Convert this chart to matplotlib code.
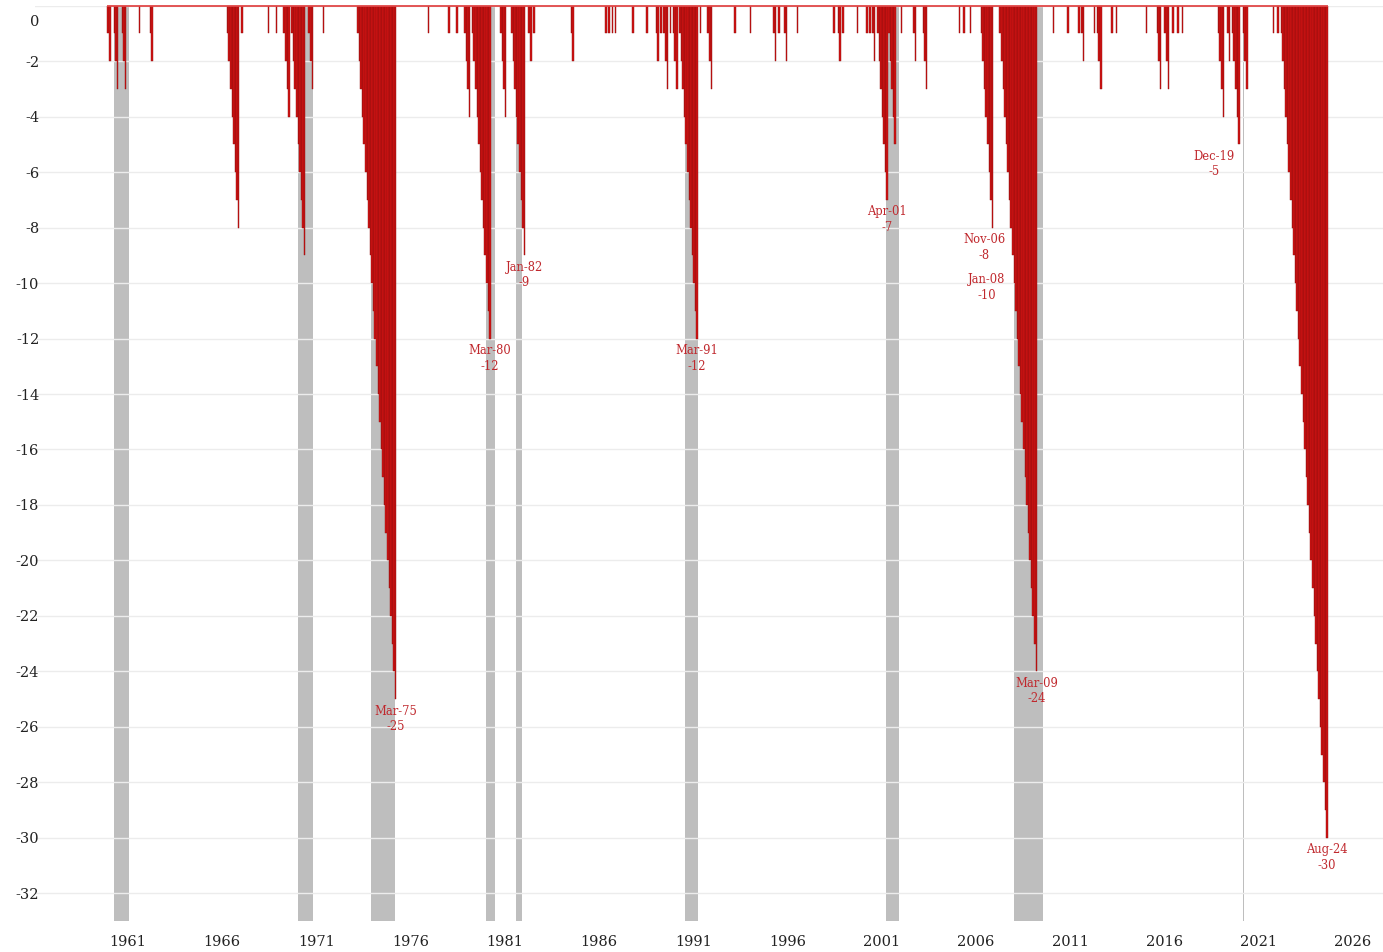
import matplotlib
matplotlib.use("Agg")
import matplotlib.pyplot as plt
import matplotlib.transforms as mtransforms

# ---------------- data ----------------
# start month of each run of consecutive months, and the running count read for each month
ep_start = [
    '1959-12', '1960-04', '1960-09', '1961-08', '1962-03',
    '1966-04', '1967-01', '1968-06', '1968-11', '1969-04', '1969-09', '1970-08', '1971-05',
    '1973-03', '1976-12', '1978-01', '1978-06', '1978-11', '1979-04', '1980-10', '1981-05',
    '1982-04', '1982-07', '1984-07',
    '1986-05', '1986-07', '1986-09', '1986-11', '1987-10', '1988-07',
    '1989-01', '1989-04', '1989-06', '1989-10', '1989-12', '1990-04', '1991-05', '1991-10',
    '1993-03', '1994-01', '1995-04', '1995-07', '1995-11', '1996-07',
    '1998-06', '1998-09', '1998-12', '1999-09', '2000-03', '2000-05', '2000-07',
    '2000-10', '2001-05', '2002-01', '2002-09', '2003-03',
    '2005-02', '2005-05', '2005-09', '2006-04', '2007-04',
    '2010-02', '2010-11', '2011-06', '2011-08', '2012-04', '2012-06', '2013-03', '2013-06',
    '2015-01', '2015-08', '2016-01', '2016-06', '2016-09', '2016-12',
    '2018-11', '2019-05', '2019-08', '2020-03', '2021-10', '2022-01', '2022-03',
]
ep_values = [
    [-1, -2], [-1, -2, -3], [-1, -2, -3], [-1], [-1, -2],
    [-1, -2, -3, -4, -5, -6, -7, -8], [-1], [-1], [-1], [-1, -2, -3, -4],
    [-1, -2, -3, -4, -5, -6, -7, -8, -9], [-1, -2, -3], [-1],
    [-1, -2, -3, -4, -5, -6, -7, -8, -9, -10, -11, -12, -13, -14, -15, -16, -17, -18, -19, -20,
     -21, -22, -23, -24, -25],
    [-1], [-1], [-1], [-1, -2, -3, -4],
    [-1, -2, -3, -4, -5, -6, -7, -8, -9, -10, -11, -12],
    [-1, -2, -3, -4], [-1, -2, -3, -4, -5, -6, -7, -8, -9],
    [-1, -2], [-1], [-1, -2],
    [-1], [-1], [-1], [-1], [-1], [-1],
    [-1, -2], [-1], [-1, -2, -3], [-1], [-1, -2, -3],
    [-1, -2, -3, -4, -5, -6, -7, -8, -9, -10, -11, -12], [-1], [-1, -2, -3],
    [-1], [-1], [-1, -2], [-1], [-1, -2], [-1],
    [-1], [-1, -2], [-1], [-1], [-1], [-1], [-1, -2],
    [-1, -2, -3, -4, -5, -6, -7], [-1, -2, -3, -4, -5], [-1], [-1, -2], [-1, -2, -3],
    [-1], [-1], [-1], [-1, -2, -3, -4, -5, -6, -7, -8],
    [-1, -2, -3, -4, -5, -6, -7, -8, -9, -10, -11, -12, -13, -14, -15, -16, -17, -18, -19, -20,
     -21, -22, -23, -24],
    [-1], [-1], [-1], [-1, -2], [-1], [-1, -2, -3], [-1], [-1],
    [-1], [-1, -2, -3], [-1, -2, -3], [-1], [-1], [-1],
    [-1, -2, -3, -4], [-1, -2], [-1, -2, -3, -4, -5], [-1, -2, -3], [-1], [-1],
    [-1, -2, -3, -4, -5, -6, -7, -8, -9, -10, -11, -12, -13, -14, -15, -16, -17, -18, -19, -20,
     -21, -22, -23, -24, -25, -26, -27, -28, -29, -30],
]

# span of the monthly series (zero line)
series_first = '1959-12'
series_last = '2024-08'

# recession shading (start month, first month after)
rec_start = ['1960-04', '1970-01', '1973-12', '1980-01', '1981-08', '1990-08', '2001-04', '2008-01', '2020-03']
rec_end = ['1961-02', '1970-11', '1975-03', '1980-07', '1981-12', '1991-04', '2001-12', '2009-08', '2020-04']

# annotated points
ann_month = ['1975-03', '1980-03', '1982-01', '1991-03', '2001-04', '2006-11', '2008-01', '2009-03', '2019-12', '2024-08']
ann_text = ['Mar-75', 'Mar-80', 'Jan-82', 'Mar-91', 'Apr-01', 'Nov-06', 'Jan-08', 'Mar-09', 'Dec-19', 'Aug-24']
ann_value = [-25, -12, -9, -12, -7, -8, -10, -24, -5, -30]

x_tick_years = [1961, 1966, 1971, 1976, 1981, 1986, 1991, 1996, 2001, 2006, 2011, 2016, 2021, 2026]
y_ticks = [0, -2, -4, -6, -8, -10, -12, -14, -16, -18, -20, -22, -24, -26, -28, -30, -32]


def month_to_x(s):
    y, m = s.split('-')
    return int(y) + (int(m) - 1) / 12.0


# expand runs into monthly bars
bar_x, bar_v = [], []
for s, vals in zip(ep_start, ep_values):
    x0 = month_to_x(s)
    for i, v in enumerate(vals):
        bar_x.append(x0 + i / 12.0)
        bar_v.append(v)

# ---------------- figure ----------------
plt.rcParams['font.family'] = ['DejaVu Serif']
fig = plt.figure(figsize=(13.83, 9.52), dpi=100)
ax = fig.add_axes([0.0253, 0.0326, 0.9747, 0.9614])

ax.set_xlim(1956.07, 2027.6)
ax.set_ylim(-33, 0)

for s, e in zip(rec_start, rec_end):
    ax.axvspan(month_to_x(s), month_to_x(e), color='#bebebe', lw=0, zorder=1)

ax.bar(bar_x, bar_v, width=1 / 12.0, align='edge', color='#d11313',
       edgecolor='#8e0d0d', linewidth=0.3, zorder=3)
ax.plot([month_to_x(series_first), month_to_x(series_last) + 1 / 12.0], [0, 0],
        color='#e04848', lw=1.3, zorder=4, clip_on=False, solid_capstyle='butt')

for m, t, v in zip(ann_month, ann_text, ann_value):
    xm = month_to_x(m) + 1 / 24.0
    dx = 0
    if t == 'Nov-06':
        dx = -6
    elif t == 'Jan-08':
        dx = -20
    elif t == 'Dec-19':
        dx = -18
    dy = -4
    if t == 'Jan-08':
        dy = 7
    ax.annotate(t + '\n' + str(v), xy=(xm, v), xytext=(dx, dy), textcoords='offset points',
                ha='center', va='top', fontsize=8.3, color='#c0282d', linespacing=1.25, zorder=5)

ax.set_yticks(y_ticks)
ax.set_yticklabels([str(v) for v in y_ticks])
ax.set_xticks(x_tick_years)
ax.set_xticklabels([str(y) for y in x_tick_years])
ax.grid(axis='y', color='#ececec', lw=1.0, zorder=0)
ax.grid(axis='x', visible=False)
for sp in ax.spines.values():
    sp.set_visible(False)
ax.tick_params(axis='both', length=0, labelsize=10.5, colors='#222222')
ax.tick_params(axis='x', pad=10)
ax.tick_params(axis='y', pad=-3)

# shift the "0" label down so it stays inside the figure, as in the original
lbl0 = ax.get_yticklabels()[0]
lbl0.set_transform(lbl0.get_transform() + mtransforms.ScaledTranslation(0, -11 / 72, fig.dpi_scale_trans))

fig.savefig('out.png', dpi=100)
